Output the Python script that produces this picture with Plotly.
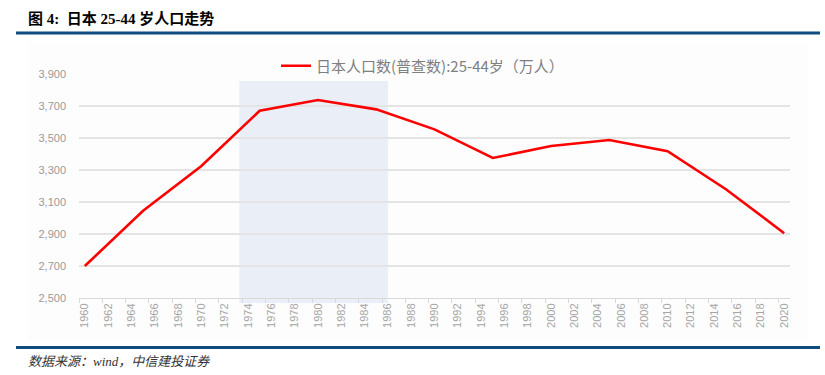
import plotly.graph_objects as go

# ---- data ----
census_years = [1960, 1965, 1970, 1975, 1980, 1985, 1990, 1995, 2000, 2005, 2010, 2015, 2020]
pop_25_44 = [2700, 3045, 3325, 3670, 3737, 3679, 3554, 3375, 3450, 3487, 3417, 3180, 2905]
tick_years = list(range(1960, 2021, 2))
y_ticks = [2500, 2700, 2900, 3100, 3300, 3500, 3700, 3900]
shade_start, shade_end = 1973.25, 1986.0

series_name = "日本人口数(普查数):25-44岁（万人）"
title_text = "图 4:  日本 25-44 岁人口走势"
source_text = "数据来源：wind，中信建投证券"

W, H = 825, 375
ML, MR, MT, MB = 79, 35, 74, 77
PW = W - ML - MR
PH = H - MT - MB

def px_x(p):
    return (p - ML) / PW

def px_y(p):
    return (H - MB - p) / PH

fig = go.Figure()
fig.add_trace(go.Scatter(
    x=census_years, y=pop_25_44, mode="lines", name=series_name,
    line=dict(color="#ff0000", width=2.6), showlegend=True,
))

shapes = [
    # faint chart background
    dict(type="rect", xref="paper", yref="paper", x0=px_x(28), x1=px_x(808),
         y0=px_y(340), y1=px_y(42), fillcolor="#fdfdfd", line=dict(width=0), layer="below"),
    # shaded period
    dict(type="rect", xref="x", yref="paper", x0=shade_start, x1=shade_end,
         y0=px_y(303), y1=px_y(81), fillcolor="#eaeff7", line=dict(width=0), layer="below"),
    # header / footer rules
    dict(type="line", xref="paper", yref="paper", x0=px_x(16), x1=px_x(820),
         y0=px_y(33), y1=px_y(33), line=dict(color="#0e4d7d", width=3)),
    dict(type="line", xref="paper", yref="paper", x0=px_x(16), x1=px_x(820),
         y0=px_y(347.5), y1=px_y(347.5), line=dict(color="#0e4d7d", width=3)),
]

annotations = [
    dict(text="<b>" + title_text + "</b>", xref="paper", yref="paper",
         x=px_x(26), y=px_y(18), xanchor="left", yanchor="middle", showarrow=False,
         font=dict(family="Liberation Serif, Noto Sans CJK SC", size=15, color="#000000")),
    dict(text="<i>" + source_text + "</i>", xref="paper", yref="paper",
         x=px_x(26), y=px_y(361), xanchor="left", yanchor="middle", showarrow=False,
         font=dict(family="Liberation Serif, Noto Sans CJK SC", size=13, color="#333333")),
]

fig.update_layout(
    width=W, height=H,
    margin=dict(l=ML, r=MR, t=MT, b=MB),
    paper_bgcolor="#ffffff", plot_bgcolor="rgba(0,0,0,0)",
    shapes=shapes, annotations=annotations,
    legend=dict(orientation="h", x=px_x(276), y=px_y(66), xanchor="left", yanchor="middle",
                font=dict(family="Noto Sans CJK SC", size=15, color="#7f7f7f"),
                bgcolor="rgba(0,0,0,0)"),
    xaxis=dict(
        range=[1959.5, 2020.5], tickmode="array", tickvals=tick_years,
        ticktext=[str(y) for y in tick_years], tickangle=-90, ticks="",
        tickfont=dict(family="Liberation Sans", size=11, color="#a6a6a6"),
        showgrid=False, zeroline=False, showline=True, linecolor="#d9d9d9", linewidth=1,
        minor=dict(tick0=1959.5, dtick=2, ticks="outside", ticklen=4, tickcolor="#d9d9d9", showgrid=False),
    ),
    yaxis=dict(
        range=[2500, 3900], tickmode="array", tickvals=y_ticks, tickformat=",",
        tickfont=dict(family="Liberation Sans", size=11, color="#999999"),
        showgrid=True, gridcolor="#e4e4e4", gridwidth=1.5, zeroline=False, showline=False,
        ticks="", ticklabelstandoff=12,
    ),
)

fig.write_html("out.html", config={"displayModeBar": False},
               post_script="document.body.style.margin='0';document.body.style.overflow='hidden';")
